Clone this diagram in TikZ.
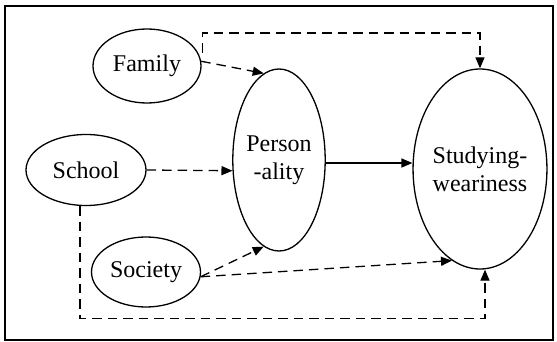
\documentclass[tikz,border=0pt]{standalone}
\usepackage{fontspec}
\setmainfont{Liberation Serif}
\usetikzlibrary{arrows.meta,shapes.geometric}
\begin{document}
\begin{tikzpicture}[x=1pt,y=-1pt,
  oval/.style={draw,ellipse,line width=1.3pt,inner sep=0pt,align=center,
    font=\fontsize{24}{28}\selectfont},
  dline/.style={line width=1.3pt,dash pattern=on 9.5pt off 6pt,-{Triangle[length=11pt,width=9pt]}},
  sline/.style={line width=1.3pt,-{Triangle[length=11pt,width=9pt]}}]
\useasboundingbox (0,0) rectangle (557,342);
\draw[line width=1.3pt] (5,6) rectangle (553,340);
\node[oval,minimum width=108pt,minimum height=74pt] (fam) at (147,66) {Family};
\node[oval,minimum width=120pt,minimum height=71pt] (sch) at (86,170) {School};
\node[oval,minimum width=109pt,minimum height=70pt] (soc) at (146,272) {Society};
\node[oval,minimum width=90pt,minimum height=182pt] (pers) at (279,160) {Person\\-ality};
\node[oval,minimum width=116pt,minimum height=200pt] (stud) at (480,169) {Studying-\\weariness};
% arrows
\draw[dline] (fam.5) -- (pers.100);
\draw[dline] (sch.east) -- (pers.193);
\draw[dline] (soc.-5) -- (pers.260);
\draw[dline] (soc.-5) -- (stud.253);
\draw[sline] ([yshift=-3pt]pers.east) -- ([yshift=-3pt]pers.east -| stud.west);
\draw[dline] ([xshift=1pt,yshift=13pt]fam.east) -- ++(0,-20) -| (stud.north);
\draw[dline] ([xshift=-6pt]sch.south) -- ++(0,112) -| ([xshift=5pt]stud.south);
\end{tikzpicture}
\end{document}
